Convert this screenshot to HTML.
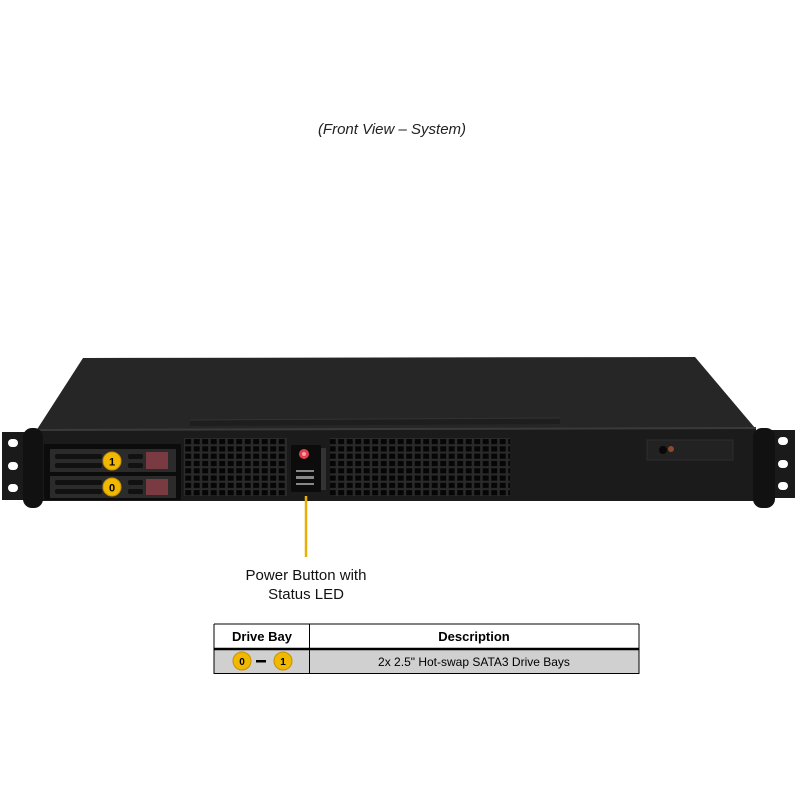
<!DOCTYPE html>
<html><head><style>
body{margin:0;background:#fff;width:800px;height:800px;overflow:hidden;font-family:"Liberation Sans",Arial,sans-serif}
</style></head><body>
<svg width="800" height="800" viewBox="0 0 800 800" xmlns="http://www.w3.org/2000/svg">
<defs>
<pattern id="g" x="184" y="438" width="8.5" height="7.3" patternUnits="userSpaceOnUse">
<rect width="8.5" height="7.3" fill="#2a2a2a"/>
<rect x="1.2" y="1" width="6" height="5.2" fill="#060606"/>
</pattern>
</defs>
<text x="392" y="134" font-size="15" font-style="italic" text-anchor="middle" fill="#222">(Front View – System)</text>
<!-- top face -->
<polygon points="83,358 695,357 755,428 36,431" fill="#262626"/>
<polygon points="190,420 560,418 560,424 190,426" fill="#1e1e1e"/>
<line x1="190" y1="420" x2="560" y2="418" stroke="#333" stroke-width="1"/>
<!-- front face -->
<rect x="38" y="429" width="718" height="72" fill="#1b1b1b"/>
<line x1="38" y1="430" x2="756" y2="428" stroke="#3a3a3a" stroke-width="2"/>
<!-- left ear -->
<rect x="2" y="432" width="30" height="68" fill="#1a1a1a"/>
<rect x="8" y="439" width="10" height="8" rx="4" fill="#fff"/>
<rect x="8" y="462" width="10" height="8" rx="4" fill="#fff"/>
<rect x="8" y="484" width="10" height="8" rx="4" fill="#fff"/>
<rect x="23" y="428" width="20" height="80" rx="9" fill="#111"/>
<!-- right ear -->
<rect x="765" y="430" width="30" height="68" fill="#1a1a1a"/>
<rect x="778" y="437" width="10" height="8" rx="4" fill="#fff"/>
<rect x="778" y="460" width="10" height="8" rx="4" fill="#fff"/>
<rect x="778" y="482" width="10" height="8" rx="4" fill="#fff"/>
<rect x="753" y="428" width="22" height="80" rx="9" fill="#111"/>
<!-- drive bays -->
<rect x="44" y="444" width="137" height="56" fill="#0c0c0c"/>
<rect x="50" y="449" width="126" height="23" fill="#2b2b2b"/>
<rect x="50" y="476" width="126" height="22" fill="#2b2b2b"/>
<g fill="#111">
<rect x="55" y="454" width="40" height="5" rx="2"/><rect x="55" y="463" width="40" height="5" rx="2"/>
<rect x="82" y="454" width="20" height="5" rx="2"/><rect x="82" y="463" width="20" height="5" rx="2"/>
<rect x="128" y="454" width="15" height="5" rx="2"/><rect x="128" y="463" width="15" height="5" rx="2"/>
<rect x="55" y="480" width="40" height="5" rx="2"/><rect x="55" y="489" width="40" height="5" rx="2"/>
<rect x="82" y="480" width="20" height="5" rx="2"/><rect x="82" y="489" width="20" height="5" rx="2"/>
<rect x="128" y="480" width="15" height="5" rx="2"/><rect x="128" y="489" width="15" height="5" rx="2"/>
</g>
<rect x="146" y="452" width="22" height="17" fill="#7a3a42"/>
<rect x="146" y="479" width="22" height="16" fill="#7a3a42"/>
<circle cx="112" cy="461" r="9" fill="#f0b800" stroke="#c89000"/>
<text x="112" y="465.5" font-size="11" font-weight="bold" text-anchor="middle">1</text>
<circle cx="112" cy="487" r="9" fill="#f0b800" stroke="#c89000"/>
<text x="112" y="491.5" font-size="11" font-weight="bold" text-anchor="middle">0</text>
<!-- grilles -->
<rect x="184" y="438" width="103" height="58" fill="url(#g)"/>
<rect x="330" y="438" width="180" height="58" fill="url(#g)"/>
<!-- control panel -->
<rect x="291" y="445" width="30" height="47" fill="#0c0c0c"/>
<circle cx="304" cy="454" r="5" fill="#e04050"/>
<circle cx="304" cy="454" r="2" fill="#f7a0a8"/>
<g fill="#888"><rect x="296" y="470" width="18" height="2"/><rect x="296" y="476" width="18" height="3"/><rect x="296" y="483" width="18" height="2"/></g>
<rect x="321" y="448" width="5" height="42" fill="#333"/>
<!-- right panel -->
<rect x="647" y="440" width="86" height="20" fill="#222" stroke="#2e2e2e"/>
<circle cx="663" cy="450" r="4" fill="#080808"/>
<circle cx="671" cy="449" r="3" fill="#8a4a30"/>
<!-- callout -->
<line x1="306" y1="496" x2="306" y2="557" stroke="#e8b000" stroke-width="2.5"/>
<text x="306" y="580" font-size="15" text-anchor="middle" fill="#111">Power Button with</text>
<text x="306" y="599" font-size="15" text-anchor="middle" fill="#111">Status LED</text>
<!-- table -->
<rect x="214" y="624" width="425" height="25" fill="#fff"/>
<rect x="214" y="649" width="425" height="24" fill="#d0d0d0"/>
<line x1="214" y1="624" x2="639" y2="624" stroke="#000" stroke-width="1"/>
<line x1="214" y1="649" x2="639" y2="649" stroke="#000" stroke-width="2.5"/>
<line x1="214" y1="673.5" x2="639" y2="673.5" stroke="#000" stroke-width="1"/>
<line x1="214" y1="624" x2="214" y2="674" stroke="#000" stroke-width="1"/>
<line x1="309.5" y1="624" x2="309.5" y2="674" stroke="#000" stroke-width="1"/>
<line x1="639" y1="624" x2="639" y2="674" stroke="#000" stroke-width="1"/>
<text x="262" y="641" font-size="13" font-weight="bold" text-anchor="middle">Drive Bay</text>
<text x="474" y="641" font-size="13" font-weight="bold" text-anchor="middle">Description</text>
<text x="474" y="666" font-size="12" text-anchor="middle">2x 2.5" Hot-swap SATA3 Drive Bays</text>
<circle cx="242" cy="661" r="9" fill="#f0b800" stroke="#c89000"/>
<text x="242" y="665" font-size="10" font-weight="bold" text-anchor="middle">0</text>
<rect x="256" y="660" width="10" height="2.5" fill="#000"/>
<circle cx="283" cy="661" r="9" fill="#f0b800" stroke="#c89000"/>
<text x="283" y="665" font-size="10" font-weight="bold" text-anchor="middle">1</text>
</svg>
</body></html>
